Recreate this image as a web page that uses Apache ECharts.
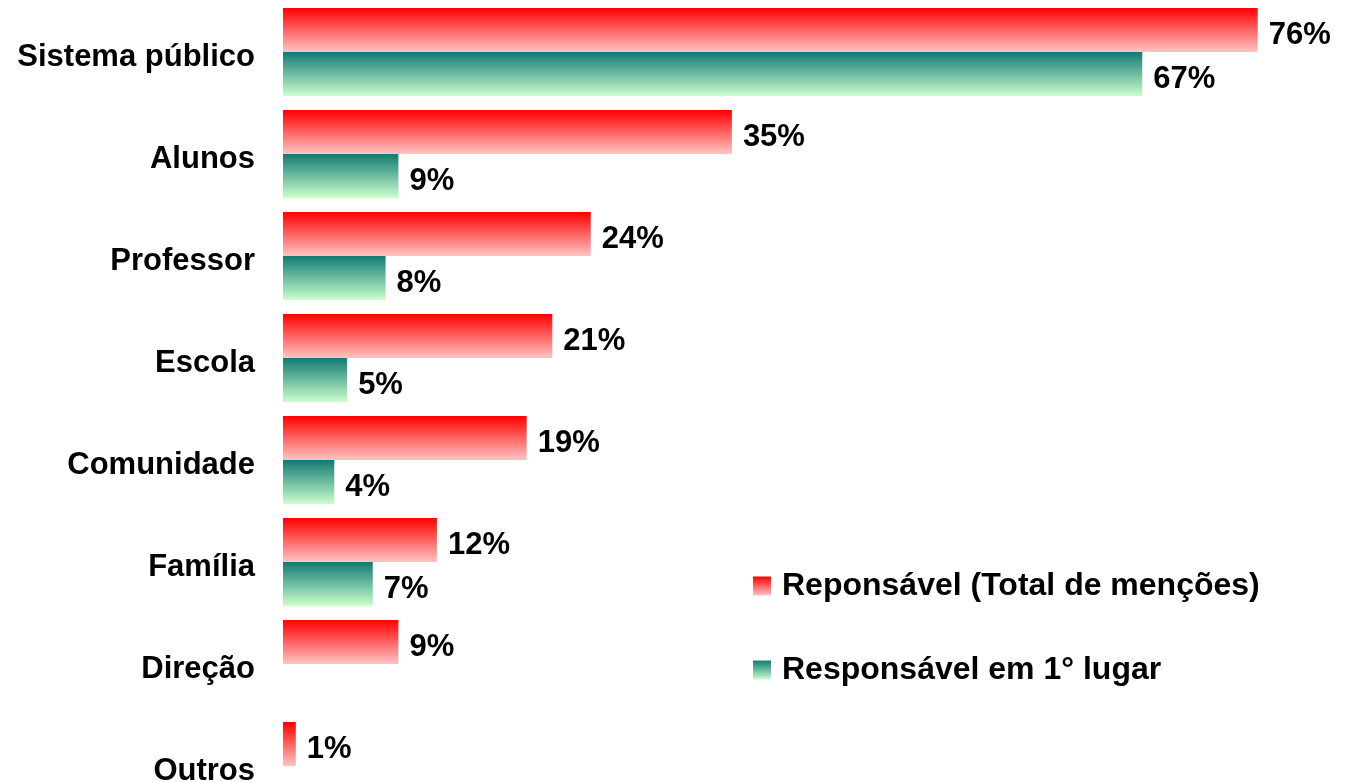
<!DOCTYPE html>
<html>
<head>
<meta charset="utf-8">
<script src="https://cdn.jsdelivr.net/npm/echarts@6/dist/echarts.min.js"></script>
<style>
  html, body { margin: 0; padding: 0; background: #fff; }
  #main { width: 1345px; height: 782px; }
</style>
</head>
<body>
<div id="main"></div>
<script>
// categories, top to bottom
var categories = ['Sistema público', 'Alunos', 'Professor', 'Escola', 'Comunidade', 'Família', 'Direção', 'Outros'];
// Reponsável (Total de menções)
var totalData = [76, 35, 24, 21, 19, 12, 9, 1];
// Responsável em 1° lugar
var firstData = [67, 9, 8, 5, 4, 7, null, null];
var seriesNames = ['Reponsável (Total de menções)', 'Responsável em 1° lugar'];

var font = '"Liberation Sans", Arial, sans-serif';

function vGrad(top, bottom) {
  return new echarts.graphic.LinearGradient(0, 0, 0, 1, [
    { offset: 0, color: top },
    { offset: 1, color: bottom }
  ]);
}

var myChart = echarts.init(document.getElementById('main'));

var labelStyle = {
  show: true,
  position: 'right',
  distance: 11,
  offset: [0, 5],
  formatter: '{c}%',
  color: '#000',
  fontFamily: font,
  fontWeight: 'bold',
  fontSize: 31
};

var option = {
  backgroundColor: '#fff',
  animation: false,
  grid: {
    left: 283,
    top: 1,
    width: 1026,
    height: 816,
    outerBoundsMode: 'none',
    containLabel: false
  },
  legend: {
    orient: 'vertical',
    left: 753,
    top: 569,
    padding: 0,
    itemWidth: 18,
    itemHeight: 19,
    itemGap: 50,
    icon: 'rect',
    data: seriesNames,
    textStyle: {
      color: '#000',
      fontFamily: font,
      fontWeight: 'bold',
      fontSize: 32,
      lineHeight: 34,
      padding: [0, 0, 0, 6]
    }
  },
  xAxis: {
    type: 'value',
    min: 0,
    max: 80,
    show: false,
    splitLine: { show: false }
  },
  yAxis: {
    type: 'category',
    data: categories,
    inverse: true,
    axisLine: { show: false },
    axisTick: { show: false },
    axisLabel: {
      margin: 28,
      formatter: '{v|{value}}',
      rich: {
        v: {
          padding: [10, 0, 0, 0],
          color: '#000',
          fontFamily: font,
          fontWeight: 'bold',
          fontSize: 31
        }
      },
      color: '#000',
      fontFamily: font,
      fontWeight: 'bold',
      fontSize: 31
    }
  },
  series: [
    {
      name: seriesNames[0],
      type: 'bar',
      barWidth: 44,
      barGap: '0%',
      data: totalData,
      itemStyle: { color: vGrad('#ff0000', '#ffc4c4') },
      label: labelStyle
    },
    {
      name: seriesNames[1],
      type: 'bar',
      barWidth: 44,
      barGap: '0%',
      data: firstData,
      itemStyle: { color: vGrad('#117a74', '#ccffcc') },
      label: labelStyle
    }
  ]
};

myChart.setOption(option);
window.onresize = myChart.resize;
</script>
</body>
</html>
